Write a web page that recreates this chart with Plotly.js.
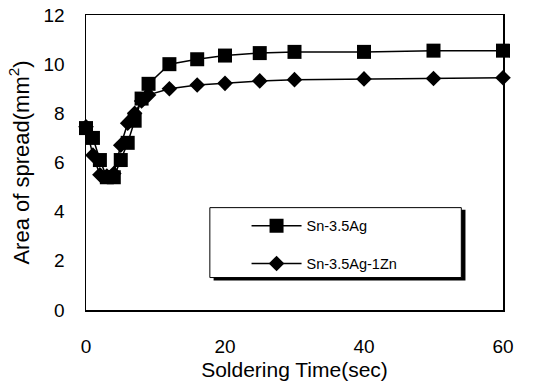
<!DOCTYPE html>
<html><head><meta charset="utf-8">
<script src="https://cdn.plot.ly/plotly-3.0.1.min.js"></script>
<style>html,body{margin:0;padding:0;background:#fff;}#chart{width:551px;height:387px;}</style>
</head><body><div id="chart"></div>
<script>
const time = [0, 1, 2, 3, 4, 5, 6, 7, 8, 9, 12, 16, 20, 25, 30, 40, 50, 60];
const snAg = [7.4, 7.0, 6.1, 5.4, 5.4, 6.1, 6.8, 7.7, 8.6, 9.2, 10.0, 10.2, 10.35, 10.45, 10.5, 10.5, 10.55, 10.55];
const snAgZn = [7.45, 6.3, 5.5, 5.45, 5.55, 6.7, 7.6, 8.0, 8.5, 8.75, 9.0, 9.15, 9.22, 9.32, 9.37, 9.4, 9.42, 9.45];
const names = ['Sn-3.5Ag', 'Sn-3.5Ag-1Zn'];
const xTicks = [0, 20, 40, 60];
const yTicks = [0, 2, 4, 6, 8, 10, 12];

const font = 'Liberation Sans, Arial, sans-serif';
const traces = [
  {x: time, y: snAg, name: names[0], mode: 'lines+markers', legendgroup: 'a',
   line: {color: '#000', width: 1.5}, marker: {symbol: 'square', size: 14, color: '#000'}, cliponaxis: false},
  {x: time, y: snAgZn, name: names[1], mode: 'lines+markers', legendgroup: 'b',
   line: {color: '#000', width: 1.5}, marker: {symbol: 'diamond', size: 12, color: '#000'}, cliponaxis: false}
];
const axisCommon = {showgrid: false, zeroline: false, showline: true, linecolor: '#000', linewidth: 1.5,
  mirror: true, ticks: '', tickfont: {family: font, size: 19, color: '#000'}};
const layout = {
  width: 551, height: 387,
  margin: {l: 86, r: 48, t: 15, b: 77},
  paper_bgcolor: '#fff', plot_bgcolor: '#fff',
  showlegend: true,
  xaxis: Object.assign({}, axisCommon, {range: [0, 60], tickvals: xTicks, ticklabelstandoff: 19,
    title: {text: 'Soldering Time(sec)', font: {family: font, size: 21, color: '#000'}, standoff: 6}}),
  yaxis: Object.assign({}, axisCommon, {range: [0, 12], tickvals: yTicks, ticklabelstandoff: 16,
    title: {text: 'Area of spread(mm<sup>2</sup>)', font: {family: font, size: 22, color: '#000'}, standoff: 8}}),
  legend: {x: 0.385, y: 0.34, xanchor: 'left', yanchor: 'top', bgcolor: 'rgba(0,0,0,0)', borderwidth: 0,
    traceorder: 'grouped', tracegroupgap: 16, itemwidth: 50,
    font: {family: font, size: 14.5, color: '#000'}},
  shapes: [
    {type: 'rect', xref: 'paper', yref: 'paper', x0: 0.306, x1: 0.91, y0: 0.1, y1: 0.34,
     line: {width: 0}, fillcolor: '#000', layer: 'above'},
    {type: 'rect', xref: 'paper', yref: 'paper', x0: 0.297, x1: 0.9, y0: 0.11, y1: 0.347,
     line: {width: 1, color: '#000'}, fillcolor: '#fff', layer: 'above'}
  ]
};
Plotly.newPlot('chart', traces, layout, {displayModeBar: false, staticPlot: true});
</script></body></html>
